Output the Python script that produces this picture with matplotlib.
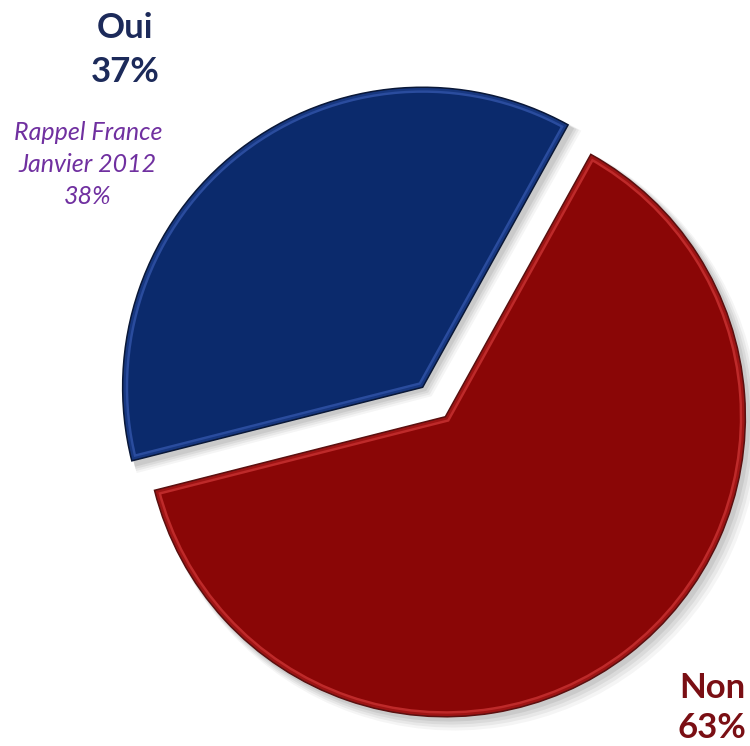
import matplotlib
matplotlib.use("Agg")
import matplotlib.pyplot as plt
from matplotlib.patches import Wedge
import numpy as np

labels = ["Oui", "Non"]
values = [37, 63]
pct_labels = ["37%", "63%"]
recall_lines = ["Rappel France", "Janvier 2012", "38%"]

face_colors = ["#0B2A6C", "#8A0606"]
rim_colors = ["#2A4C9E", "#BE2A2A"]
edge_colors = ["#0A1838", "#5A1010"]
label_colors = ["#1C2A5A", "#7A0F14"]

W, H = 750, 746
fig = plt.figure(figsize=(W / 100, H / 100), dpi=100)
ax = fig.add_axes([0, 0, 1, 1])
ax.axis("off")

cx, cy, R = 434, 402, 300
explode = [0.062, 0.062]
start = 61.0

# compute wedges through matplotlib pie (invisible), then restyle
wedges, _ = ax.pie(values, startangle=start, counterclock=True, explode=explode,
                   radius=1.0, wedgeprops=dict(linewidth=0))
ax.set_aspect("auto")
ax.set_xlim(-cx / R, (W - cx) / R)
ax.set_ylim(-(H - cy) / R, cy / R)

for i, w in enumerate(wedges):
    w.set_visible(False)
    c = w.center
    # soft shadow
    for k, (off, a) in enumerate([(0.030, 0.04), (0.024, 0.05), (0.018, 0.06), (0.012, 0.07)]):
        sh = Wedge((c[0] + off, c[1] - off), w.r + 0.004 * (4 - k), w.theta1 - 0.4, w.theta2 + 0.4,
                   facecolor="black", edgecolor="none", alpha=a, zorder=1)
        ax.add_patch(sh)
    body = Wedge(c, w.r, w.theta1, w.theta2, facecolor=face_colors[i],
                 edgecolor=rim_colors[i], linewidth=8, zorder=2)
    ax.add_patch(body)
    body.set_clip_path(body)
    inner = Wedge(c, w.r, w.theta1, w.theta2, facecolor="none",
                  edgecolor=face_colors[i], linewidth=4.5, zorder=3, alpha=0.6)
    ax.add_patch(inner)
    inner.set_clip_path(body)
    outline = Wedge(c, w.r, w.theta1, w.theta2, facecolor="none",
                    edgecolor=edge_colors[i], linewidth=1.1, zorder=4)
    ax.add_patch(outline)

font = "Lato"
def px(x, y):
    return x / W, 1 - y / H

fig.text(*px(125, 28), labels[0], ha="center", va="center", fontsize=25,
         fontweight="bold", color=label_colors[0], family=font)
fig.text(*px(125, 72), pct_labels[0], ha="center", va="center", fontsize=25,
         fontweight="bold", color=label_colors[0], family=font)
for j, (t, y) in enumerate(zip(recall_lines, [133, 165, 197])):
    fig.text(*px(88, y), t, ha="center", va="center", fontsize=18,
             style="italic", color="#7030A0", family=font)
fig.text(*px(712, 688), labels[1], ha="center", va="center", fontsize=25,
         fontweight="bold", color=label_colors[1], family=font)
fig.text(*px(712, 728), pct_labels[1], ha="center", va="center", fontsize=25,
         fontweight="bold", color=label_colors[1], family=font)

fig.savefig("out.png", dpi=100, facecolor="white")
